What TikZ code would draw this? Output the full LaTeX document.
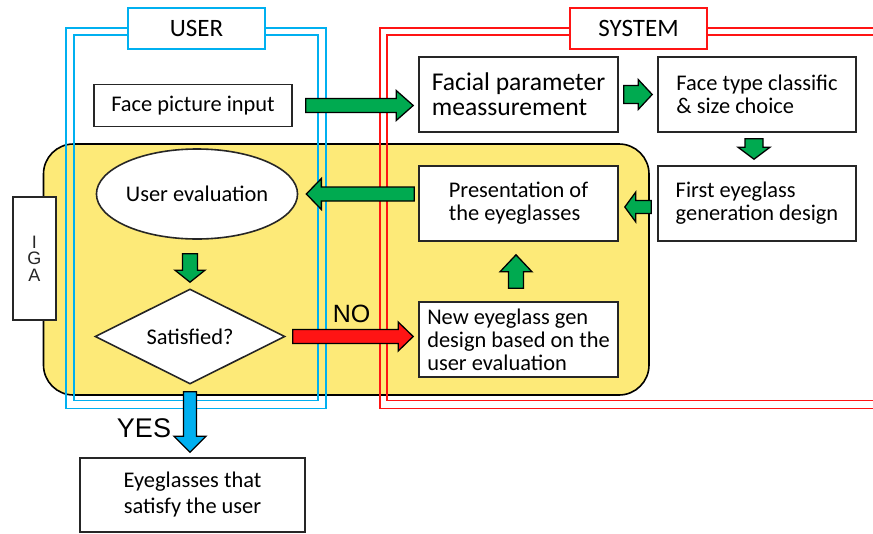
\documentclass[tikz,border=0pt]{standalone}
\usepackage{fontspec}
\setmainfont{Carlito}
\newfontfamily\arialfont{Liberation Sans}
\usetikzlibrary{calc,shapes.geometric}

\definecolor{verde}{RGB}{0,170,80}
\definecolor{azul}{RGB}{0,176,240}
\definecolor{rojo}{RGB}{255,20,20}
\definecolor{amarillo}{RGB}{253,234,120}

\tikzset{
  caja/.style={draw=black!85, line width=1.6pt, fill=white, minimum width=199pt,
    minimum height=75pt, inner sep=0pt, align=left, font=\fontsize{22.4}{23}\selectfont},
  etiqueta/.style={line width=2pt, fill=white, minimum width=137pt, minimum height=41pt,
    inner sep=0pt, font=\fontsize{25}{26}\selectfont},
  marco/.style={line width=1.8pt},
  % parametros de las flechas gruesas
  cola/.store in=\cola, punta/.store in=\punta, largo/.store in=\largo,
  cola=7, punta=15, largo=16,
  flecha/.style={draw=black, line width=1.3pt, to path={
    let \p1=(\tikztostart), \p2=(\tikztotarget),
        \n1={veclen(\x2-\x1,\y2-\y1)}, \n2={(\x2-\x1)/\n1}, \n3={(\y2-\y1)/\n1} in
    ({\x1-\cola*(\n3)},{\y1+\cola*(\n2)})
    -- ({\x2-\largo*(\n2)-\cola*(\n3)},{\y2-\largo*(\n3)+\cola*(\n2)})
    -- ({\x2-\largo*(\n2)-\punta*(\n3)},{\y2-\largo*(\n3)+\punta*(\n2)})
    -- (\p2)
    -- ({\x2-\largo*(\n2)+\punta*(\n3)},{\y2-\largo*(\n3)-\punta*(\n2)})
    -- ({\x2-\largo*(\n2)+\cola*(\n3)},{\y2-\largo*(\n3)-\cola*(\n2)})
    -- ({\x1+\cola*(\n3)},{\y1-\cola*(\n2)}) -- cycle}}
}

\begin{document}
\begin{tikzpicture}[x=1pt,y=-1pt]
  \useasboundingbox (0,0) rectangle (873,533);

  % Bloque amarillo (IGA)
  \draw[fill=amarillo, line width=1.6pt, rounded corners=30pt] (43.5,144) rectangle (649,395);

  % Marcos dobles
  \draw[azul, marco] (66,28) rectangle (326,408.5);
  \draw[azul, marco] (74,35) rectangle (318,400.5);
  \draw[rojo, marco] (880,28) -- (380,28) -- (380,408.5) -- (880,408.5);
  \draw[rojo, marco] (880,35) -- (387,35) -- (387,400.5) -- (880,400.5);

  % Etiquetas de los marcos
  \node[etiqueta, draw=azul] (user) at (196.5,28) {USER};
  \node[etiqueta, draw=rojo] (system) at (638.5,28) {SYSTEM};

  % Cajas
  \node[caja, minimum width=198pt, minimum height=42pt, align=center] (foto) at (193,105.5) {Face picture input};
  \node[caja, font=\fontsize{25.6}{25}\selectfont] (facial) at (518.5,94.5) {Facial parameter\\meassurement};
  \node[caja, minimum width=198pt] (tipo) at (757,94.5) {Face type classific\\\& size choice};
  \node[caja, minimum width=198pt] (primero) at (757,203.5) {First eyeglass\\generation design};
  \node[caja] (present) at (518.5,203.5) {Presentation of\\the eyeglasses};
  \node[caja] (nuevo) at (518.5,339.5) {New eyeglass gen\\design based on the\\user evaluation};
  \node[caja, ellipse, minimum width=200pt, minimum height=90pt] (evalu) at (197,194) {User evaluation};
  \node[caja, diamond, aspect=2, minimum width=190pt, minimum height=95pt] (satis) at (190,336.5) {Satisfied?};
  \node[caja, minimum width=225pt, minimum height=74pt, align=center,
        font=\fontsize{22.4}{26}\selectfont] (gafas) at (192.5,495) {Eyeglasses that\\satisfy the user};
  \node[caja, minimum width=43pt, minimum height=123pt, align=center, text=black!85,
        font=\arialfont\fontsize{18}{16.5}\selectfont] (iga) at (34.5,258.5) {I\\G\\A};

  % Flechas gruesas
  \draw[flecha, fill=verde, cola=7, punta=15, largo=17] ($(foto.east)+(13,0)$) to ($(facial.west |- foto.east)+(-5,0)$);
  \draw[flecha, fill=verde, cola=9, punta=15, largo=14] ($(facial.east)+(5,0)$) to ($(tipo.west)+(-5,0)$);
  \draw[flecha, fill=verde, cola=9, punta=16, largo=12] ($(tipo.south)+(-3,6)$) to ($(primero.north)+(-3,-6)$);
  \draw[flecha, fill=verde, cola=6.5, punta=15, largo=11] ($(primero.west)+(-6,3.5)$) to ($(present.east)+(6,3.5)$);
  \draw[flecha, fill=verde, cola=7, punta=15.5, largo=15] ($(present.west |- evalu.east)+(-4,0)$) to ($(evalu.east)+(8,0)$);
  \draw[flecha, fill=verde, cola=7.5, punta=15, largo=12] ($(evalu.south -| satis.north)+(0,14)$) to ($(satis.north)+(0,-6)$);
  \draw[flecha, fill=rojo, cola=7, punta=14.5, largo=15] ($(satis.east)+(7,0)$) to ($(nuevo.west |- satis.east)+(-5,0)$);
  \draw[flecha, fill=verde, cola=7.5, punta=16, largo=17] ($(nuevo.north)+(-2.5,-13)$) to ($(present.south)+(-2.5,13)$);
  \draw[flecha, fill=azul, cola=6.5, punta=16, largo=16] ($(satis.south)+(0,7)$) to ($(satis.south |- gafas.north)+(0,-5)$);

  % Textos de las ramas
  \node[font=\arialfont\fontsize{25}{25}\selectfont] (no) at (351.5,313.5) {NO};
  \node[font=\arialfont\fontsize{27}{27}\selectfont] (yes) at (144,428) {YES};

\end{tikzpicture}
\end{document}
